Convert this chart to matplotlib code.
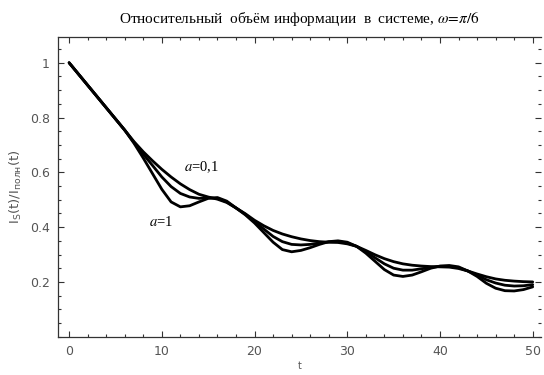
import matplotlib
matplotlib.use("Agg")
import matplotlib.pyplot as plt
from matplotlib.ticker import MultipleLocator

t = list(range(0, 51))

upper = [1.0, 0.959, 0.918, 0.877, 0.836, 0.795, 0.754, 0.712, 0.675, 0.642,
         0.611, 0.583, 0.558, 0.537, 0.52, 0.51, 0.502, 0.49, 0.47, 0.449,
         0.425, 0.405, 0.388, 0.375, 0.365, 0.357, 0.351, 0.347, 0.345, 0.344,
         0.339, 0.33, 0.315, 0.299, 0.285, 0.274, 0.266, 0.261, 0.258, 0.256,
         0.255, 0.254, 0.249, 0.24, 0.229, 0.219, 0.211, 0.206, 0.203, 0.201,
         0.2]
middle = [1.0, 0.959, 0.918, 0.877, 0.836, 0.795, 0.754, 0.709, 0.666, 0.625,
          0.583, 0.548, 0.523, 0.51, 0.505, 0.507, 0.505, 0.492, 0.47, 0.447,
          0.42, 0.393, 0.366, 0.347, 0.337, 0.335, 0.337, 0.342, 0.346, 0.347,
          0.342, 0.33, 0.31, 0.288, 0.266, 0.25, 0.243, 0.243, 0.248, 0.253,
          0.257, 0.257, 0.252, 0.24, 0.225, 0.208, 0.196, 0.188, 0.185, 0.186,
          0.19]
lower = [1.0, 0.959, 0.918, 0.877, 0.836, 0.795, 0.754, 0.706, 0.652, 0.595,
         0.538, 0.492, 0.474, 0.478, 0.492, 0.505, 0.508, 0.495, 0.47, 0.445,
         0.415, 0.38, 0.345, 0.318, 0.31, 0.315, 0.325, 0.337, 0.347, 0.35,
         0.345, 0.33, 0.305, 0.275, 0.245, 0.225, 0.22, 0.225, 0.237, 0.25,
         0.258, 0.26, 0.255, 0.24, 0.22, 0.195, 0.177, 0.168, 0.167, 0.172,
         0.182]

x_ticks = [0, 10, 20, 30, 40, 50]
y_ticks = [0.2, 0.4, 0.6, 0.8, 1.0]
y_tick_labels = ["0.2", "0.4", "0.6", "0.8", "1"]

fig = plt.figure(figsize=(5.44, 3.75), dpi=100)
ax = fig.add_axes([0.1066, 0.1021, 0.888, 0.7992])

for series in (upper, middle, lower):
    ax.plot(t, series, color="black", lw=2.0, solid_joinstyle="round",
            solid_capstyle="round")

ax.set_xlim(-1.2, 50.9)
ax.set_ylim(0.0, 1.094)

ax.set_xticks(x_ticks)
ax.set_yticks(y_ticks)
ax.set_yticklabels(y_tick_labels)
ax.xaxis.set_minor_locator(MultipleLocator(2))
ax.yaxis.set_minor_locator(MultipleLocator(0.05))

ax.tick_params(which="both", direction="in", top=True, right=True,
               colors="#333333", labelcolor="#555555", labelsize=9, width=0.8)
ax.tick_params(which="major", length=4, pad=6)
ax.tick_params(which="minor", length=2.5)

for side in ("left", "bottom", "top"):
    ax.spines[side].set_color("#333333")
    ax.spines[side].set_linewidth(0.9)
ax.spines["right"].set_visible(False)

ax.set_title(r"Относительный  объём информации  в  системе, $\omega\!=\!\pi/6$",
             family="Liberation Serif", fontsize=11, pad=10,
             math_fontfamily="stix")
ax.set_xlabel("t", fontsize=7, color="#555555", labelpad=2)
ax.set_ylabel(r"$\mathregular{I_S(t)/I_{полн}(t)}$", fontsize=9.5, color="#555555",
              labelpad=4)

ax.text(14.3, 0.62, r"$a$=0,1", family="Liberation Serif", fontsize=10.5,
        ha="center", va="center", math_fontfamily="stix")
ax.text(9.9, 0.42, r"$a$=1", family="Liberation Serif", fontsize=10.5,
        ha="center", va="center", math_fontfamily="stix")

fig.savefig("out.png", dpi=100)
